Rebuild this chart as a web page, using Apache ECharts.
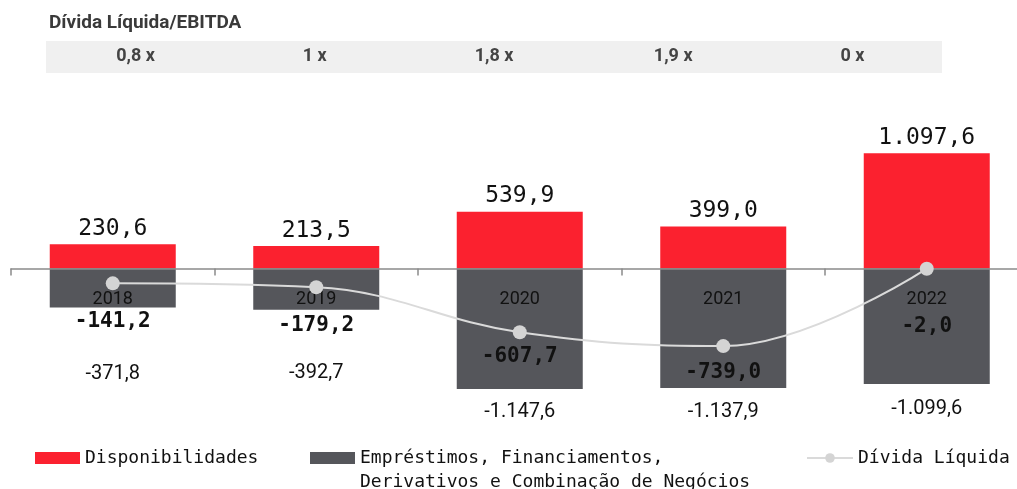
<!DOCTYPE html>
<html>
<head>
<meta charset="utf-8">
<script src="https://cdn.jsdelivr.net/npm/echarts@6/dist/echarts.min.js"></script>
<style>
  html, body { margin: 0; padding: 0; background: #fff; }
  #chart1 { width: 1017px; height: 489px; }
</style>
</head>
<body>
<div id="chart1"></div>
<script>
// dados do gráfico
const anos = ['2018', '2019', '2020', '2021', '2022'];
const disponibilidades = [230.6, 213.5, 539.9, 399.0, 1097.6];
const emprestimos = [-371.8, -392.7, -1147.6, -1137.9, -1099.6];
const dividaLiquida = [-141.2, -179.2, -607.7, -739.0, -2.0];
const alavancagem = ['0,8 x', '1 x', '1,8 x', '1,9 x', '0 x'];

// distâncias dos rótulos (estilo, não dados)
const distEmprestimos = [56, 53, 13, 14, 15];
const distDivida = [21, 21, 7, 9, 40];

const MONO = "'DejaVu Sans Mono', 'Liberation Mono', monospace";
const SANS = "Roboto, 'Noto Sans', sans-serif";

// formata número no padrão brasileiro: 1.097,6
const fmt = (v) => {
    const neg = v < 0;
    const parts = Math.abs(v).toFixed(1).split('.');
    const inteiro = parts[0].replace(/\B(?=(\d{3})+(?!\d))/g, '.');
    return (neg ? '-' : '') + inteiro + ',' + parts[1];
};

const nomeEmp = 'Empréstimos, Financiamentos, Derivativos e Combinação de Negócios';

const legendText = { fontFamily: MONO, fontSize: 18, color: '#111', lineHeight: 24 };

const option = {
    animation: false,
    title: {
        text: 'Dívida Líquida/EBITDA',
        left: 44,
        top: 9,
        textStyle: { fontFamily: SANS, fontSize: 19, fontWeight: 'bold', color: '#3a3a3a' }
    },
    legend: [
        {
            data: [{ name: 'Disponibilidades', icon: 'rect' }],
            left: 35, top: 446, padding: 0,
            itemWidth: 45, itemHeight: 12,
            textStyle: legendText
        },
        {
            data: [{ name: nomeEmp, icon: 'rect' }],
            left: 310, top: 422, padding: 0,
            itemWidth: 45, itemHeight: 12,
            formatter: () => '\nEmpréstimos, Financiamentos,\nDerivativos e Combinação de Negócios',
            textStyle: legendText
        },
        {
            data: ['Dívida Líquida'],
            left: 806, top: 446, padding: 0,
            itemWidth: 46, itemHeight: 12,
            textStyle: legendText
        }
    ],
    grid: [
        { left: 11, width: 1017.5, top: 132, height: 273, outerBoundsMode: 'none' },
        { left: 46, width: 896, top: 41, height: 32, show: true, backgroundColor: '#f0f0f0', borderWidth: 0, outerBoundsMode: 'none' }
    ],
    xAxis: [
        {
            type: 'category',
            data: anos,
            z: 10,
            axisLine: { lineStyle: { color: '#8a8a8a', width: 1.5 } },
            axisTick: { show: true, length: 7, lineStyle: { color: '#8a8a8a', width: 1.5 } },
            axisLabel: { margin: -115, fontFamily: SANS, fontSize: 18, color: '#111' }
        },
        {
            type: 'category',
            gridIndex: 1,
            data: alavancagem,
            axisLine: { show: false },
            axisTick: { show: false },
            axisLabel: { margin: -26, fontFamily: SANS, fontSize: 18, fontWeight: 'bold', color: '#444' }
        }
    ],
    yAxis: [
        { type: 'value', min: -1300, max: 1300, show: false, splitLine: { show: false } },
        { type: 'value', gridIndex: 1, show: false, splitLine: { show: false } }
    ],
    series: [
        {
            name: 'Disponibilidades',
            type: 'bar',
            stack: 'total',
            barWidth: 126,
            data: disponibilidades,
            itemStyle: { color: '#fb212f' },
            label: {
                show: true,
                position: 'top',
                distance: 4,
                formatter: (p) => fmt(p.value),
                fontFamily: MONO, fontSize: 23, color: '#111'
            }
        },
        {
            name: nomeEmp,
            type: 'bar',
            stack: 'total',
            barWidth: 126,
            data: emprestimos.map((v, i) => ({
                value: v,
                label: { distance: distEmprestimos[i] }
            })),
            itemStyle: { color: '#55565b' },
            label: {
                show: true,
                position: 'bottom',
                formatter: (p) => fmt(p.value),
                fontFamily: SANS, fontSize: 20, color: '#111'
            }
        },
        {
            name: 'Dívida Líquida',
            type: 'line',
            z: 12,
            smooth: 0.4,
            data: dividaLiquida.map((v, i) => ({
                value: v,
                label: { distance: distDivida[i] }
            })),
            symbol: 'circle',
            symbolSize: 14,
            lineStyle: { color: '#dadada', width: 2 },
            itemStyle: { color: '#d4d4d4' },
            label: {
                show: true,
                position: 'bottom',
                formatter: (p) => fmt(p.value),
                fontFamily: MONO, fontSize: 21, fontWeight: 'bold', color: '#111'
            }
        }
    ]
};

const chart1 = echarts.init(document.getElementById('chart1'));
chart1.setOption(option);
</script>
</body>
</html>
